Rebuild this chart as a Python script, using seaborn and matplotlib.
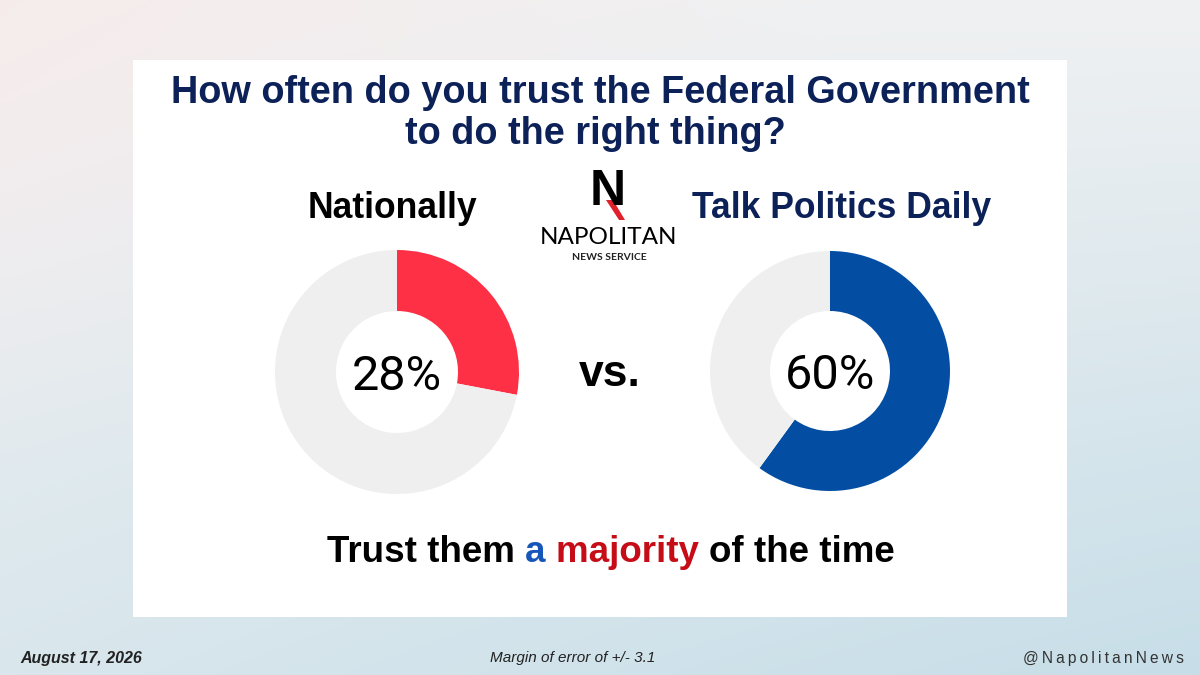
import matplotlib.pyplot as plt
import numpy as np
import seaborn as sns
from matplotlib.patches import Rectangle, Polygon

# --- data
groups = ["Nationally", "Talk Politics Daily"]
trust_pct = [28, 60]
group_colors = ["#fe3045", "#034ea2"]
title_lines = ["How often do you trust the Federal Government", "to do the right thing?"]
date_label = "August 17, 2026"
moe_label = "Margin of error of +/- 3.1"
handle_label = "@NapolitanNews"

sns.set_theme(style="white")
plt.rcParams['font.family'] = ['Liberation Sans', 'DejaVu Sans']

W, H = 1200, 675
fig = plt.figure(figsize=(12, 6.75), dpi=100)

# --- background gradient
bg = fig.add_axes([0, 0, 1, 1])
xx, yy = np.meshgrid(np.linspace(0, 1, 300), np.linspace(0, 1, 170))
pink = np.array([0.965, 0.925, 0.925])
grey = np.array([0.94, 0.945, 0.95])
blue = np.array([0.78, 0.87, 0.91])
t_blue = np.clip(0.55 * yy + 0.45 * xx * yy, 0, 1)
t_pink = np.clip((1 - xx) * (1 - yy) * 1.4 - 0.4, 0, 1)
img = grey * (1 - t_blue[..., None]) + blue * t_blue[..., None]
img = img * (1 - t_pink[..., None]) + pink * t_pink[..., None]
bg.imshow(img, extent=[0, 1, 0, 1], aspect="auto", origin="upper")
bg.add_patch(Rectangle((133 / W, 1 - 617 / H), (1067 - 133) / W, (617 - 60) / H,
                       facecolor="white", edgecolor="none"))
bg.set_xlim(0, 1)
bg.set_ylim(0, 1)
bg.axis("off")


def fx(px):
    return px / W


def fy(py):
    return 1 - py / H


# --- donuts
centers = [(397, 372, 122), (830, 371, 120)]
for (cx, cy, r), pct, col in zip(centers, trust_pct, group_colors):
    ax = fig.add_axes([fx(cx - r), fy(cy + r), 2 * r / W, 2 * r / H])
    ax.pie([pct, 100 - pct], colors=[col, "#efefef"], startangle=90, counterclock=False,
           radius=1, wedgeprops=dict(width=0.5, edgecolor="none"))
    ax.set_xlim(-1, 1)
    ax.set_ylim(-1, 1)
    ax.set_aspect("auto")
    ax.axis("off")
    fig.text(fx(cx), fy(cy + 5), f"{pct}%", ha="center", va="center", fontsize=35,
             family=['Roboto', 'DejaVu Sans'], color="black")

# --- texts
fig.text(fx(600), fy(93), title_lines[0], ha="center", va="center", fontsize=27.3,
         fontweight="bold", color="#0c2158")
fig.text(fx(595), fy(134), title_lines[1], ha="center", va="center", fontsize=27.3,
         fontweight="bold", color="#0c2158")
fig.text(fx(392), fy(208), groups[0], ha="center", va="center", fontsize=25.6,
         fontweight="bold", color="black")
fig.text(fx(842), fy(208), groups[1], ha="center", va="center", fontsize=25.6,
         fontweight="bold", color="#0c2158")
fig.text(fx(610), fy(375), "vs.", ha="center", va="center", fontsize=32,
         fontweight="bold", color="black")

# logo
fig.text(fx(608), fy(192), "N", ha="center", va="center", fontsize=36,
         fontweight="bold", color="black")
bg.add_patch(Polygon([(fx(606), fy(200)), (fx(613), fy(200)), (fx(625), fy(220)),
                      (fx(619), fy(220))], closed=True, facecolor="#e0202a", edgecolor="none"))
fig.text(fx(609), fy(237), "NAPOLITAN", ha="center", va="center", fontsize=17.5,
         family=['Lato', 'DejaVu Sans'], fontweight="normal", color="black")
fig.text(fx(609), fy(257), "NEWS SERVICE", ha="center", va="center", fontsize=7.5,
         family=['Lato', 'DejaVu Sans'], fontweight="bold", color="#222222")

# bottom line with coloured words
parts = [("Trust them ", "black"), ("a ", "#1656b8"), ("majority ", "#c60c16"),
         ("of the time", "black")]
renderer = fig.canvas.get_renderer()
pieces = []
for s, c in parts:
    t = fig.text(0, fy(553), s, ha="left", va="center", fontsize=26.5, fontweight="bold", color=c)
    pieces.append(t)
widths = [p.get_window_extent(renderer).width for p in pieces]
total = sum(widths)
x0 = 611 - total / 2
for p, w in zip(pieces, widths):
    p.set_x(fx(x0))
    x0 += w

# footer
fig.text(fx(20), fy(658), date_label, ha="left", va="center", fontsize=11.5,
         fontweight="bold", style="italic", color="#222222")
fig.text(fx(573), fy(658), moe_label, ha="center", va="center", fontsize=11,
         style="italic", color="#222222")
fig.text(fx(1184), fy(658), "\u2009".join(handle_label), ha="right", va="center", fontsize=11.2,
         family=['Liberation Sans', 'DejaVu Sans'], color="#333333")

fig.savefig("out.png", dpi=100)
